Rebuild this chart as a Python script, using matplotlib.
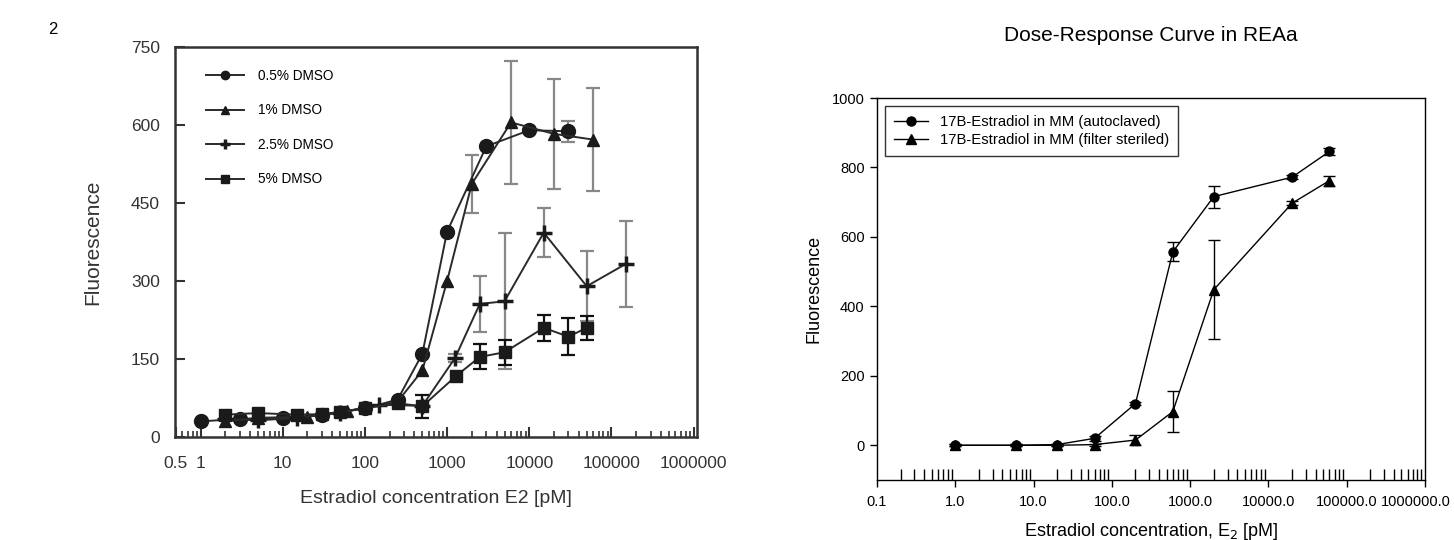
### PACKAGES ###
import matplotlib
matplotlib.use('Agg')
import matplotlib.pyplot as plt
import matplotlib.transforms as mtransforms
from matplotlib.ticker import FixedLocator, NullFormatter

plt.rcParams['font.family'] = ['Liberation Sans', 'DejaVu Sans']

### ---------------------------------------------------------------------------------------------------------- ###
### ---------------------------------------------- DATA ------------------------------------------------------ ###
### ---------------------------------------------------------------------------------------------------------- ###

### LEFT PANEL - DMSO SERIES ###
dmso05_x = [1, 3, 10, 30, 100, 250, 500, 1000, 3000, 10000, 30000]
dmso05_y = [30, 35, 36, 42, 55, 72, 160, 395, 559, 590, 588]
dmso05_err = [0, 0, 0, 0, 0, 0, 0, 0, 0, 0, 20]

dmso1_x = [2, 5, 20, 60, 250, 500, 1000, 2000, 6000, 20000, 60000]
dmso1_y = [30, 37, 39, 50, 68, 128, 300, 487, 605, 583, 572]
dmso1_err = [0, 0, 0, 0, 0, 0, 0, 56, 118, 106, 99]

dmso25_x = [2, 5, 15, 50, 150, 500, 1250, 2500, 5000, 15000, 50000, 150000]
dmso25_y = [35, 32, 37, 47, 62, 60, 152, 256, 261, 393, 290, 333]
dmso25_err = [0, 0, 0, 0, 0, 0, 8, 54, 131, 47, 67, 82]

dmso5_x = [2, 5, 15, 30, 50, 100, 250, 500, 1300, 2500, 5000, 15000, 30000, 50000]
dmso5_y = [43, 46, 43, 44, 48, 55, 65, 59, 118, 154, 163, 210, 193, 210]
dmso5_err = [0, 0, 0, 0, 0, 0, 0, 22, 0, 24, 24, 25, 35, 23]

left_labels = ['0.5% DMSO', '1% DMSO', '2.5% DMSO', '5% DMSO']
left_ticks = [0.5, 1, 10, 100, 1000, 10000, 100000, 1000000]
left_ticklabels = ['0.5', '1', '10', '100', '1000', '10000', '100000', '1000000']

### RIGHT PANEL - REAa ###
e2_x = [1, 6, 20, 60, 200, 600, 2000, 20000, 60000]
autoclaved_y = [0, 0, 2, 20, 120, 557, 716, 772, 846]
autoclaved_err = [3, 3, 3, 8, 5, 27, 32, 5, 10]
filtered_y = [0, 0, 0, 2, 15, 97, 448, 697, 762]
filtered_err = [3, 3, 3, 3, 15, 60, 143, 5, 14]

right_labels = ['17B-Estradiol in MM (autoclaved)', '17B-Estradiol in MM (filter steriled)']
right_ticks = [0.1, 1, 10, 100, 1000, 10000, 100000, 1000000]
right_ticklabels = ['0.1', '1.0', '10.0', '100.0', '1000.0', '10000.0', '100000.0', '1000000.0']

### ---------------------------------------------------------------------------------------------------------- ###
### ---------------------------------------------- PLOT ------------------------------------------------------ ###
### ---------------------------------------------------------------------------------------------------------- ###

fig = plt.figure(figsize=(14.54, 5.4), dpi=100)
fig.text(0.036, 0.945, '2', fontsize=12, ha='center', va='center')

### LEFT ###
ax1 = fig.add_axes([0.1204, 0.1907, 0.359, 0.7222])
dark = '#1a1a1a'
left_series = [
    (dmso05_x, dmso05_y, dmso05_err, 'o', 10, '#888888'),
    (dmso1_x, dmso1_y, dmso1_err, '^', 9, '#888888'),
    (dmso25_x, dmso25_y, dmso25_err, '+', 11, '#888888'),
    (dmso5_x, dmso5_y, dmso5_err, 's', 9, '#111111'),
]
for (x, y, err, mk, ms, ecol), lab in zip(left_series, left_labels):
    xe = [a for a, e in zip(x, err) if e > 0]
    ye = [b for b, e in zip(y, err) if e > 0]
    ee = [e for e in err if e > 0]
    ax1.errorbar(xe, ye, yerr=ee, fmt='none', ecolor=ecol, elinewidth=1.6,
                 capsize=5, capthick=1.6, zorder=2)
    ax1.plot(x, y, marker=mk, ms=ms, color='#2a2a2a', mfc=dark, mec=dark,
             mew=2.5 if mk == '+' else 1, lw=1.4, label=lab, zorder=3)

ax1.set_xscale('log')
ax1.set_xlim(0.49, 1.1e6)
ax1.set_ylim(0, 750)
ax1.set_yticks([0, 150, 300, 450, 600, 750])
ax1.xaxis.set_major_locator(FixedLocator(left_ticks))
ax1.set_xticklabels(left_ticklabels)
minors = [m * 10.0 ** d for d in range(-1, 6) for m in range(2, 10)]
ax1.xaxis.set_minor_locator(FixedLocator([v for v in minors if v > 0.5]))
ax1.xaxis.set_minor_formatter(NullFormatter())
ax1.tick_params(axis='both', which='major', direction='in', length=7, width=1.5,
                labelsize=12.5, labelcolor='#333333', color='#333333')
ax1.tick_params(axis='x', which='major', pad=14)
ax1.tick_params(axis='y', which='major', pad=11)
ax1.tick_params(axis='x', which='minor', direction='in', length=4, width=1.2, color='#333333')
ax1.tick_params(top=False, right=False, which='both')
for s in ax1.spines.values():
    s.set_linewidth(1.8)
    s.set_color('#333333')
ax1.set_xlabel('Estradiol concentration E2 [pM]', fontsize=14, color='#333333')
ax1.set_ylabel('Fluorescence', fontsize=15, color='#333333')
ax1.xaxis.set_label_coords(0.5, -0.135)
ax1.yaxis.set_label_coords(-0.14, 0.5)
ax1.legend(loc='upper left', bbox_to_anchor=(0.035, 0.975), frameon=False, fontsize=9.8,
           handlelength=2.8, labelspacing=1.5, handletextpad=1.05, numpoints=1,
           markerscale=0.6)

### RIGHT ###
ax2 = fig.add_axes([0.6032, 0.1111, 0.3769, 0.7074])
ax2.errorbar(e2_x, autoclaved_y, yerr=autoclaved_err, fmt='none', ecolor='black',
             elinewidth=1, capsize=4, capthick=1)
ax2.errorbar(e2_x, filtered_y, yerr=filtered_err, fmt='none', ecolor='black',
             elinewidth=1, capsize=4, capthick=1)
ax2.plot(e2_x, autoclaved_y, '-o', color='black', ms=6.5, lw=1, label=right_labels[0])
ax2.plot(e2_x, filtered_y, '-^', color='black', ms=7.5, lw=1, label=right_labels[1])
ax2.set_xscale('log')
ax2.set_xlim(0.1, 1e6)
ax2.set_ylim(-100, 1000)
ax2.set_yticks([0, 200, 400, 600, 800, 1000])
ax2.xaxis.set_major_locator(FixedLocator(right_ticks))
ax2.set_xticklabels(right_ticklabels)
ax2.xaxis.set_minor_locator(FixedLocator([v for v in minors if 0.1 < v < 1e6]))
ax2.xaxis.set_minor_formatter(NullFormatter())
ax2.tick_params(axis='both', which='major', direction='out', length=5, width=1,
                labelsize=10.5)
ax2.tick_params(axis='x', which='major', pad=6)
ax2.tick_params(axis='y', which='major', pad=4)
ax2.tick_params(axis='x', which='minor', direction='in', length=8, width=1)
ax2.tick_params(top=False, right=False, which='both')
for s in ax2.spines.values():
    s.set_linewidth(1)

# last tick label runs past the figure edge - nudge it left so it stays readable
last = ax2.get_xticklabels()[-1]
last.set_transform(last.get_transform() + mtransforms.ScaledTranslation(-0.09, 0, fig.dpi_scale_trans))

ax2.set_title('Dose-Response Curve in REAa', fontsize=15, pad=41)
ax2.set_xlabel('Estradiol concentration, E$_2$ [pM]', fontsize=13)
ax2.set_ylabel('Fluorescence', fontsize=13)
ax2.xaxis.set_label_coords(0.5, -0.107)
ax2.yaxis.set_label_coords(-0.1, 0.5)
leg = ax2.legend(loc='upper left', frameon=True, fancybox=False, fontsize=10.7,
                 borderaxespad=0.55, handlelength=2.3, labelspacing=0.25, borderpad=0.6,
                 handletextpad=0.8)
leg.get_frame().set_edgecolor('black')
leg.get_frame().set_linewidth(1)

fig.savefig('out.png', dpi=100)
